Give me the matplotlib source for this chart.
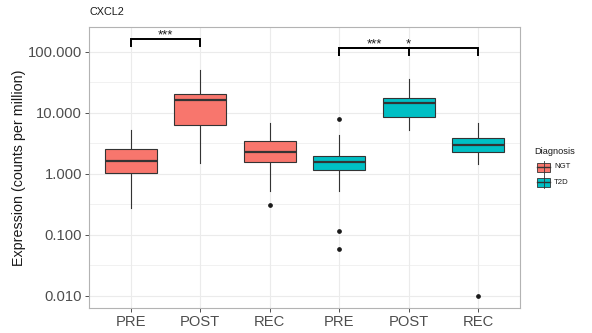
import matplotlib.pyplot as plt
import matplotlib.ticker as ticker
from matplotlib.patches import Rectangle
from matplotlib.lines import Line2D
import numpy as np

plt.rcParams["font.family"] = ["Liberation Sans", "DejaVu Sans"]

# ── Data ──────────────────────────────────────────────────────────────────────
categories = ["PRE", "POST", "REC", "PRE", "POST", "REC"]
groups     = ["NGT", "NGT", "NGT", "T2D", "T2D", "T2D"]
whislo     = [0.28, 1.53, 0.53, 0.53, 5.3, 1.46]
q1         = [1.03, 6.35, 1.59, 1.16, 8.7, 2.32]
med        = [1.63, 16.3, 2.32, 1.59, 14.6, 2.99]
q3         = [2.57, 20.7, 3.51, 2.0, 17.6, 3.89]
whishi     = [5.2, 50.7, 6.93, 4.35, 36.0, 6.93]
outliers   = [[], [], [0.314], [7.98, 0.116, 0.0597], [], [0.0100]]

# significance brackets: (from, to, label)
sig_ngt = [(1, 2, "***")]
sig_t2d = [(4, 5, "***"), (4, 6, "*")]

# ── Colors ────────────────────────────────────────────────────────────────────
COLORS  = {"NGT": "#F8766D", "T2D": "#00BFC4"}
EDGE    = "#333333"
GRID    = "#EBEBEB"
BORDER  = "#B3B3B3"
TEXT    = "#4D4D4D"

W, H = 592, 333
fig = plt.figure(figsize=(W / 100, H / 100), dpi=100)
fig.patch.set_facecolor("white")
ax = fig.add_axes([89 / W, 1 - 308 / H, (520 - 89) / W, (308 - 27) / H])

positions = np.arange(1, len(categories) + 1)
stats = []
for i in range(len(categories)):
    stats.append(dict(med=med[i], q1=q1[i], q3=q3[i], whislo=whislo[i],
                      whishi=whishi[i], fliers=outliers[i]))

bp = ax.bxp(stats, positions=positions, widths=0.75, patch_artist=True,
            showcaps=False,
            boxprops=dict(edgecolor=EDGE, linewidth=0.8),
            medianprops=dict(color=EDGE, linewidth=1.6),
            whiskerprops=dict(color=EDGE, linewidth=0.8),
            flierprops=dict(marker="o", markerfacecolor="#1a1a1a",
                            markeredgecolor="#1a1a1a", markersize=2.4))
for patch, g in zip(bp["boxes"], groups):
    patch.set_facecolor(COLORS[g])
for z in bp["boxes"]:
    z.set_zorder(3)
for m in bp["medians"]:
    m.set_zorder(4)

ax.set_yscale("log")
ax.set_ylim(10 ** -2.2, 10 ** 2.41)
ax.set_xlim(0.4, 6.6)

ax.yaxis.set_major_locator(ticker.FixedLocator([0.01, 0.1, 1, 10, 100]))
ax.yaxis.set_major_formatter(ticker.FormatStrFormatter("%.3f"))
ax.yaxis.set_minor_locator(ticker.FixedLocator([10 ** (k + 0.5) for k in range(-3, 3)]))
ax.yaxis.set_minor_formatter(ticker.NullFormatter())
ax.set_xticks(positions)
ax.set_xticklabels(categories)

ax.grid(True, which="major", color=GRID, linewidth=0.8, zorder=0)
ax.grid(True, which="minor", axis="y", color=GRID, linewidth=0.5, zorder=0)
ax.set_axisbelow(True)

ax.tick_params(axis="both", which="major", labelsize=10.6, colors="#333333",
               labelcolor=TEXT, length=3, width=0.6, pad=2)
ax.tick_params(axis="y", which="minor", length=0)
for sp in ax.spines.values():
    sp.set_edgecolor(BORDER)
    sp.set_linewidth(0.8)

ax.set_ylabel("Expression (counts per million)", fontsize=10.3, color="#1a1a1a")
ax.yaxis.set_label_coords(-0.146, 0.5)
ax.text(0, 1.035, "CXCL2", transform=ax.transAxes, fontsize=7.8, color="#1a1a1a",
        ha="left", va="bottom")


# ── Significance brackets ─────────────────────────────────────────────────────
def bracket(x0, x1, ytop, ytip, label):
    ax.plot([x0, x0, x1, x1], [ytip, ytop, ytop, ytip], color="black",
            linewidth=1.4, solid_joinstyle="miter", clip_on=False, zorder=5)
    ax.annotate(label, xy=((x0 + x1) / 2, ytop), xytext=(0, -1.5),
                textcoords="offset points", ha="center", va="bottom",
                fontsize=9.5, color="#1a1a1a", annotation_clip=False)


for x0, x1, lab in sig_ngt:
    bracket(x0, x1, 163, 125, lab)
for x0, x1, lab in sig_t2d:
    bracket(x0, x1, 116, 89, lab)

# ── Legend (ggplot style keys) ────────────────────────────────────────────────
fig.text(534 / W, 1 - 151 / H, "Diagnosis", fontsize=6.7, color="#1a1a1a",
         ha="left", va="center")
for g, yc in [("NGT", 167), ("T2D", 182)]:
    cx = 543.5
    fig.lines.append(Line2D([cx / W, cx / W], [1 - (yc - 6.5) / H, 1 - (yc + 6.5) / H],
                            transform=fig.transFigure, color=EDGE, linewidth=0.6))
    fig.patches.append(Rectangle((537 / W, 1 - (yc + 4.5) / H), 13 / W, 9 / H,
                                 transform=fig.transFigure, facecolor=COLORS[g],
                                 edgecolor=EDGE, linewidth=0.6))
    fig.lines.append(Line2D([537 / W, 550 / W], [1 - yc / H, 1 - yc / H],
                            transform=fig.transFigure, color=EDGE, linewidth=1.0))
    fig.text(554 / W, 1 - yc / H, g, fontsize=5.6, color="#1a1a1a",
             ha="left", va="center")

fig.savefig("out.png", dpi=100, facecolor="white")
